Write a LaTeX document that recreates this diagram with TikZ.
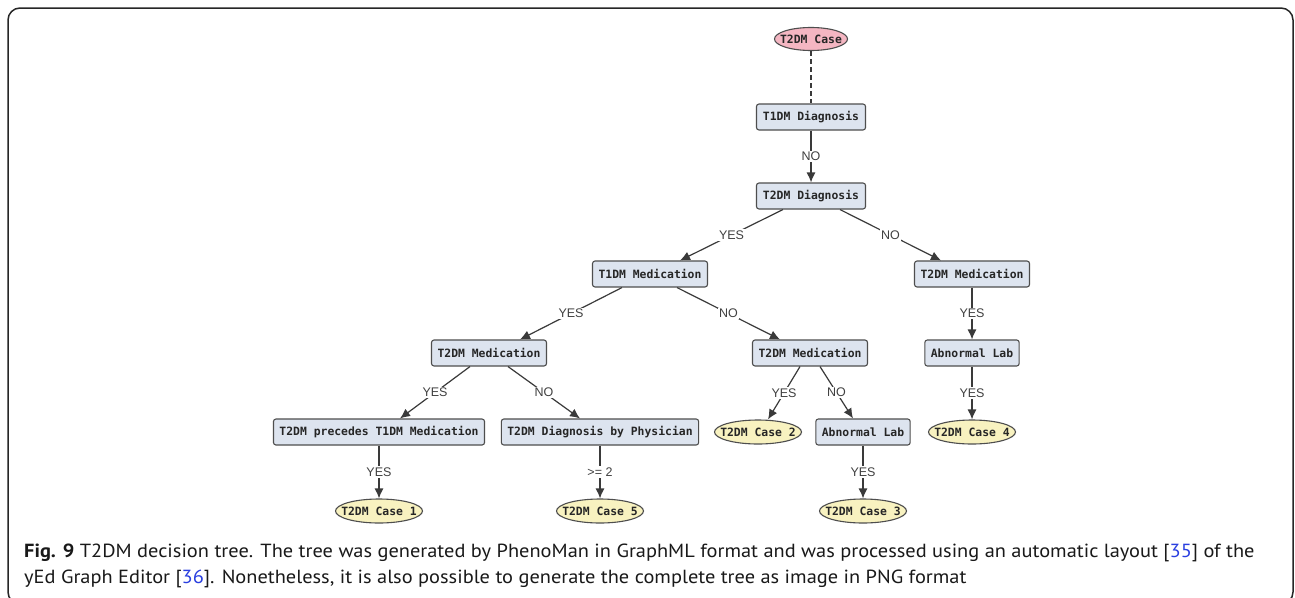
\documentclass[tikz,border=0pt]{standalone}
\usepackage{fontspec}
\setmainfont{PT Sans}
\newfontfamily\capfont[FakeStretch=1.073]{PT Sans}
\newfontfamily\monob{DejaVu Sans Mono}
\newfontfamily\lblfont{Liberation Sans}
\usetikzlibrary{shapes.geometric,arrows.meta}
\definecolor{boxfill}{HTML}{DDE4EF}
\definecolor{casefill}{HTML}{F8F2C0}
\definecolor{rootfill}{HTML}{F4B6C2}
\definecolor{linecol}{HTML}{3A3A3A}
\definecolor{linkblue}{HTML}{2A3FE0}
\newcommand{\ztext}[1]{\makebox[0pt]{#1}}
\tikzset{
  x=1pt,y=-1pt,
  decbox/.style={draw=linecol!90,line width=1.1pt,fill=boxfill,rounded corners=2.5pt,
    font=\monob\bfseries\fontsize{11.4}{13}\selectfont,text=black!85,
    minimum height=26pt,inner xsep=6pt,inner ysep=0pt},
  casenode/.style={ellipse,draw=linecol!90,line width=1.1pt,fill=casefill,
    font=\monob\bfseries\fontsize{11.4}{13}\selectfont,text=black!85,
    minimum height=24pt,minimum width=87pt,inner sep=0pt},
  rootnode/.style={casenode,fill=rootfill,minimum width=73pt,minimum height=23pt},
  conn/.style={draw=linecol,line width=1.2pt,-{Latex[length=10pt,width=9pt]}},
  lbl/.style={fill=white,inner sep=1.5pt,font=\lblfont\fontsize{12.5}{14}\selectfont,text=black!75},
}
\begin{document}
\begin{tikzpicture}
\useasboundingbox (0,0) rectangle (1295,597);
\fill[white] (0,0) rectangle (1295,597);
\draw[line width=1.5pt,draw=black!85,rounded corners=12pt] (8,8) rectangle (1293,604);

% nodes
\node[rootnode] (root) at (811,39) {\ztext{T2DM Case}};
\node[decbox,minimum width=109pt] (t1dx) at (811,117) {T1DM Diagnosis};
\node[decbox,minimum width=109pt] (t2dx) at (811,196) {T2DM Diagnosis};
\node[decbox,minimum width=113pt] (t1med) at (650,274) {T1DM Medication};
\node[decbox,minimum width=114pt] (t2medR) at (972,274) {T2DM Medication};
\node[decbox,minimum width=114pt] (t2medL) at (489,353) {T2DM Medication};
\node[decbox,minimum width=114pt] (t2medM) at (810,353) {T2DM Medication};
\node[decbox,minimum width=93pt] (labR) at (972,353) {Abnormal Lab};
\node[decbox,minimum width=210pt] (prec) at (379,432) {T2DM precedes T1DM Medication};
\node[decbox,minimum width=197pt] (phys) at (600,432) {T2DM Diagnosis by Physician};
\node[casenode] (c2) at (758,432) {\ztext{T2DM Case 2}};
\node[decbox,minimum width=93pt] (labM) at (863,432) {Abnormal Lab};
\node[casenode] (c4) at (972,432) {\ztext{T2DM Case 4}};
\node[casenode] (c1) at (379,511) {\ztext{T2DM Case 1}};
\node[casenode] (c5) at (600,511) {\ztext{T2DM Case 5}};
\node[casenode] (c3) at (863,511) {\ztext{T2DM Case 3}};

% connectors
\draw[draw=linecol,line width=1.1pt,dash pattern=on 5pt off 3pt] (root) -- (t1dx);
\draw[conn] (t1dx) -- node[lbl] {NO} (t2dx);
\draw[conn] ([xshift=-28pt]t2dx.south) -- node[lbl] {YES} ([xshift=30pt]t1med.north);
\draw[conn] ([xshift=29pt]t2dx.south) -- node[lbl] {NO} ([xshift=-31pt]t2medR.north);
\draw[conn] ([xshift=-28pt]t1med.south) -- node[lbl] {YES} ([xshift=31pt]t2medL.north);
\draw[conn] ([xshift=27pt]t1med.south) -- node[lbl] {NO} ([xshift=-30pt]t2medM.north);
\draw[conn] (t2medR) -- node[lbl] {YES} (labR);
\draw[conn] ([xshift=-19pt]t2medL.south) -- node[lbl] {YES} ([xshift=21pt]prec.north);
\draw[conn] ([xshift=19pt]t2medL.south) -- node[lbl] {NO} ([xshift=-20pt]phys.north);
\draw[conn] ([xshift=-10pt]t2medM.south) -- node[lbl] {YES} ([xshift=10pt]c2.north);
\draw[conn] ([xshift=10pt]t2medM.south) -- node[lbl] {NO} ([xshift=-10pt]labM.north);
\draw[conn] (labR) -- node[lbl] {YES} (c4);
\draw[conn] (prec) -- node[lbl] {YES} (c1);
\draw[conn] (phys) -- node[lbl] {>= 2} (c5);
\draw[conn] (labM) -- node[lbl] {YES} (c3);

% caption
\node[anchor=base west,inner sep=0pt,font=\capfont\fontsize{19}{22}\selectfont,text=black!90] (cap1) at (24,557)
  {\textbf{Fig. 9} T2DM decision tree. The tree was generated by PhenoMan in GraphML format and was processed using an automatic layout [\textcolor{linkblue}{35}] of the};
\node[anchor=base west,inner sep=0pt,font=\capfont\fontsize{19}{22}\selectfont,text=black!90] (cap2) at (24,583)
  {yEd Graph Editor [\textcolor{linkblue}{36}]. Nonetheless, it is also possible to generate the complete tree as image in PNG format};
\end{tikzpicture}
\end{document}
